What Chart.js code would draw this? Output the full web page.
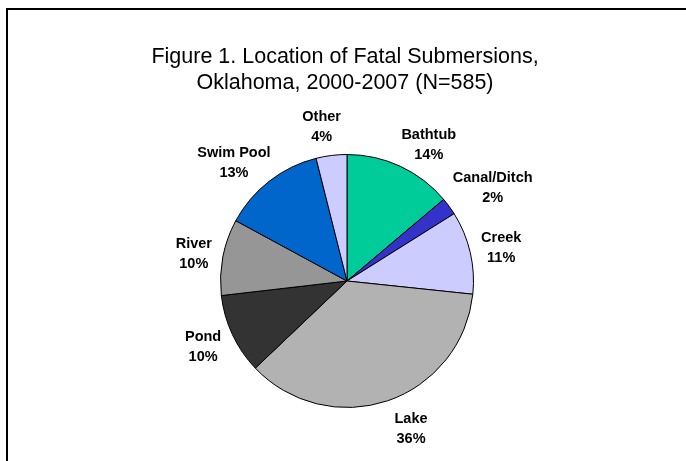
<!DOCTYPE html>
<html>
<head>
<meta charset="utf-8">
<title>Location of Fatal Submersions</title>
<script src="https://cdn.jsdelivr.net/npm/chart.js@4/dist/chart.umd.min.js"></script>
<style>
  html, body { margin: 0; padding: 0; background: #fff; overflow: hidden; }
  #wrap { position: relative; width: 686px; height: 461px; }
  #frame {
    position: absolute; left: 6px; top: 8px; width: 700px; height: 500px;
    border: 2px solid #000; box-sizing: border-box;
  }
  #chart { position: absolute; left: 0; top: 0; }
</style>
</head>
<body>
<div id="wrap">
  <div id="frame"></div>
  <canvas id="chart" width="686" height="461"></canvas>
</div>
<script>
// data (N=585), clockwise from 12 o'clock
const locations = ['Bathtub', 'Canal/Ditch', 'Creek', 'Lake', 'Pond', 'River', 'Swim Pool', 'Other'];
const deaths = [81, 13, 62, 212, 60, 57, 77, 23];
const sliceColors = ['#00CC99', '#3333CC', '#CCCCFF', '#B2B2B2', '#333333', '#969696', '#0066CC', '#CCCCFF'];
const titleLines = ['Figure 1. Location of Fatal Submersions,', 'Oklahoma, 2000-2007 (N=585)'];

const FONT = '"Liberation Sans", Arial, sans-serif';

// the built-in title squeezes text to the chart area width, so draw it here
const wideTitle = {
  id: 'wideTitle',
  afterDraw(chart) {
    const { ctx } = chart;
    ctx.save();
    ctx.font = `21.5px ${FONT}`;
    ctx.fillStyle = '#000';
    ctx.textAlign = 'center';
    ctx.textBaseline = 'middle';
    titleLines.forEach((line, i) => {
      ctx.fillText(line, 345, 57 + i * 26);
    });
    ctx.restore();
  },
};

// category name + percent, placed just outside each slice
// (labels near the top/bottom lean away from the vertical axis, like Excel's best-fit)
const outsideLabels = {
  id: 'outsideLabels',
  afterDatasetsDraw(chart) {
    const { ctx } = chart;
    const meta = chart.getDatasetMeta(0);
    const total = deaths.reduce((a, b) => a + b, 0);
    ctx.save();
    ctx.font = `bold 14.5px ${FONT}`;
    ctx.fillStyle = '#000';
    ctx.textAlign = 'center';
    ctx.textBaseline = 'middle';
    meta.data.forEach((arc, i) => {
      const {
        x, y, startAngle, endAngle, outerRadius,
      } = arc.getProps(['x', 'y', 'startAngle', 'endAngle', 'outerRadius'], true);
      let mid = (startAngle + endAngle) / 2;
      const fromTop = mid + Math.PI / 2;
      const lean = Math.sin(2 * fromTop) * Math.cos(fromTop) ** 2;
      mid += (9 * Math.PI / 180) * lean;
      const dx = Math.cos(mid);
      const dy = Math.sin(mid);
      const pct = `${Math.round((deaths[i] / total) * 100)}%`;
      const halfW = Math.max(ctx.measureText(locations[i]).width, ctx.measureText(pct).width) / 2;
      const halfH = 20;
      const tx = Math.abs(dx) > 1e-6 ? halfW / Math.abs(dx) : Infinity;
      const ty = Math.abs(dy) > 1e-6 ? halfH / Math.abs(dy) : Infinity;
      const dist = outerRadius + 11 + Math.min(tx, ty);
      const cx = x + dx * dist;
      const cy = y + dy * dist + 2;
      ctx.fillText(locations[i], cx, cy - 10);
      ctx.fillText(pct, cx, cy + 10);
    });
    ctx.restore();
  },
};

const ctx = document.getElementById('chart').getContext('2d');

new Chart(ctx, {
  type: 'pie',
  data: {
    labels: locations,
    datasets: [{
      data: deaths,
      backgroundColor: sliceColors,
      borderColor: '#000',
      borderWidth: 1,
    }],
  },
  options: {
    responsive: false,
    animation: false,
    layout: {
      padding: {
        left: 220, right: 212, top: 154, bottom: 53,
      },
    },
    plugins: {
      legend: { display: false },
      tooltip: { enabled: false },
      title: { display: false },
    },
  },
  plugins: [outsideLabels, wideTitle],
});
</script>
</body>
</html>
